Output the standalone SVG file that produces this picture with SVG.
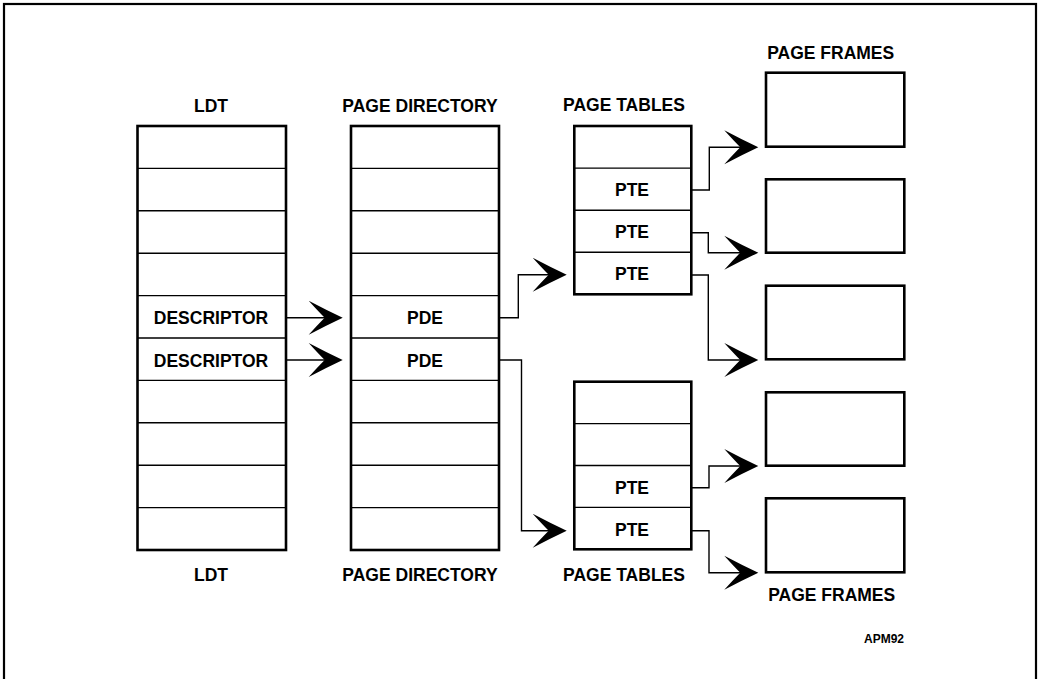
<svg xmlns="http://www.w3.org/2000/svg" xmlns:xlink="http://www.w3.org/1999/xlink" width="1043" height="679" viewBox="0 0 1043 679">
<style>
.box{fill:#fff;stroke:#000;stroke-width:2.6}
.div{stroke:#000;stroke-width:1.4;fill:none}
.con{stroke:#000;stroke-width:1.4;fill:none}
.lbl{font-family:"Liberation Sans",Arial,sans-serif;font-weight:bold;font-size:17.5px;fill:#000;text-anchor:middle}
.small{font-family:"Liberation Sans",Arial,sans-serif;font-weight:bold;font-size:12px;fill:#000;text-anchor:middle}
</style>
<defs>
<path id="ah" d="M0,0 Q-16,-7.5 -34,-17 Q-25,-7 -18,0 Q-25,7 -34,17 Q-16,7.5 0,0 Z" fill="#000"/>
</defs>
<rect x="4" y="4" width="1032" height="690" fill="none" stroke="#000" stroke-width="2.2"/>

<g id="ldt">
<text class="lbl" x="211" y="111.5">LDT</text>
<rect class="box" x="137.5" y="126" width="148.5" height="424"/>
<path class="div" d="M137.5,168.4H286M137.5,210.8H286M137.5,253.2H286M137.5,295.6H286M137.5,338H286M137.5,380.4H286M137.5,422.8H286M137.5,465.2H286M137.5,507.6H286"/>
<text class="lbl" x="211" y="324">DESCRIPTOR</text>
<text class="lbl" x="211" y="366.5">DESCRIPTOR</text>
<text class="lbl" x="211" y="580.5">LDT</text>
</g>

<g id="page-directory">
<text class="lbl" x="420" y="111.5">PAGE DIRECTORY</text>
<rect class="box" x="351" y="126" width="148" height="424"/>
<path class="div" d="M351,168.4H499M351,210.8H499M351,253.2H499M351,295.6H499M351,338H499M351,380.4H499M351,422.8H499M351,465.2H499M351,507.6H499"/>
<text class="lbl" x="425" y="324">PDE</text>
<text class="lbl" x="425" y="366.5">PDE</text>
<text class="lbl" x="420" y="580.5">PAGE DIRECTORY</text>
</g>

<g id="page-table-1">
<text class="lbl" x="624" y="111">PAGE TABLES</text>
<rect class="box" x="574.3" y="126" width="117" height="168.3"/>
<path class="div" d="M574.3,168.1H691.3M574.3,210.2H691.3M574.3,252.2H691.3"/>
<text class="lbl" x="632" y="196">PTE</text>
<text class="lbl" x="632" y="238">PTE</text>
<text class="lbl" x="632" y="280">PTE</text>
</g>

<g id="page-table-2">
<rect class="box" x="574.3" y="381.7" width="117" height="167.6"/>
<path class="div" d="M574.3,423.6H691.3M574.3,465.5H691.3M574.3,507.4H691.3"/>
<text class="lbl" x="632" y="493.5">PTE</text>
<text class="lbl" x="632" y="535.5">PTE</text>
<text class="lbl" x="624" y="580.5">PAGE TABLES</text>
</g>

<g id="page-frames">
<text class="lbl" x="830.7" y="58.5">PAGE FRAMES</text>
<rect class="box" x="766" y="72.7" width="138.3" height="74"/>
<rect class="box" x="766" y="179.3" width="138.3" height="73.4"/>
<rect class="box" x="766" y="285.7" width="138.3" height="73.6"/>
<rect class="box" x="766" y="392.3" width="138.3" height="73.4"/>
<rect class="box" x="766" y="498.3" width="138.3" height="74"/>
<text class="lbl" x="831.7" y="601">PAGE FRAMES</text>
</g>

<g id="note">
<text class="small" x="884" y="642.7">APM92</text>
</g>

<g id="connectors">
<path class="con" d="M286,317.7H326"/>
<use xlink:href="#ah" href="#ah" transform="translate(342.7,317.7)"/>
<path class="con" d="M286,360H326"/>
<use xlink:href="#ah" href="#ah" transform="translate(342.7,360)"/>
<path class="con" d="M499,317.7H518.3V274.7H550"/>
<use xlink:href="#ah" href="#ah" transform="translate(566.7,274.7)"/>
<path class="con" d="M499,360H521.5V530.7H550"/>
<use xlink:href="#ah" href="#ah" transform="translate(566.7,530.7)"/>
<path class="con" d="M691.3,190H709.3V147.3H742"/>
<use xlink:href="#ah" href="#ah" transform="translate(758.3,147.3)"/>
<path class="con" d="M691.3,232.7H708.3V252.7H742"/>
<use xlink:href="#ah" href="#ah" transform="translate(758.3,252.7)"/>
<path class="con" d="M691.3,275H708.3V360H742"/>
<use xlink:href="#ah" href="#ah" transform="translate(758.3,360)"/>
<path class="con" d="M691.3,487.7H709V466H742"/>
<use xlink:href="#ah" href="#ah" transform="translate(758.3,466)"/>
<path class="con" d="M691.3,530.7H709V572.7H742"/>
<use xlink:href="#ah" href="#ah" transform="translate(758.3,572.7)"/>
</g>
</svg>
